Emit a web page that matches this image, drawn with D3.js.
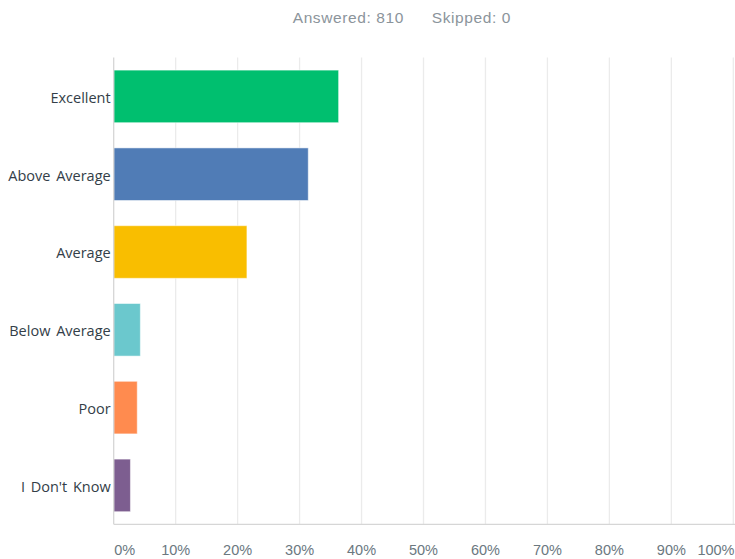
<!DOCTYPE html>
<html>
<head>
<meta charset="utf-8">
<script src="https://cdn.jsdelivr.net/npm/d3@7/dist/d3.min.js"></script>
<style>
  html, body { margin: 0; padding: 0; background: #fff; }
  svg { display: block; }
</style>
</head>
<body>
<svg id="chart" width="735" height="559"></svg>
<script>
const categories = ["Excellent", "Above Average", "Average", "Below Average", "Poor", "I Don't Know"];
const values = [36.3, 31.4, 21.5, 4.3, 3.8, 2.7];
const colors = ["#00BF6F", "#507CB6", "#F9BE00", "#6BC8CD", "#FF8B4F", "#7D5E90"];
const tickValues = [0, 10, 20, 30, 40, 50, 60, 70, 80, 90, 100];
const tickLabels = ["0%", "10%", "20%", "30%", "40%", "50%", "60%", "70%", "80%", "90%", "100%"];
const headerParts = ["Answered: 810", "Skipped: 0"];

(function () {
const svg = d3.select("#chart");
const plotLeft = 113.7, plotRight = 733.3, plotTop = 57.5, plotBottom = 524.3;

const x = d3.scaleLinear().domain([0, 100]).range([plotLeft, plotRight]);
const y = d3.scaleBand().domain(categories).range([plotTop, plotBottom])
  .paddingInner(0.324).paddingOuter(0.162);

// header
const header = svg.append("g").attr("font-family", "'Liberation Sans', Arial, sans-serif")
  .attr("font-size", 15.5).attr("letter-spacing", 0.6).attr("fill", "#8b949b");
header.append("text").attr("x", 292.7).attr("y", 22.7).text(headerParts[0]);
header.append("text").attr("x", 431.7).attr("y", 22.7).text(headerParts[1]);

// grid lines
svg.append("g").selectAll("line").data(tickValues.slice(1)).join("line")
  .attr("x1", d => x(d)).attr("x2", d => x(d))
  .attr("y1", plotTop).attr("y2", plotBottom)
  .attr("stroke", "#ebebeb").attr("stroke-width", 1.3);

// bars
svg.append("g").selectAll("rect").data(categories).join("rect")
  .attr("x", x(0))
  .attr("y", d => y(d))
  .attr("width", (d, i) => x(values[i]) - x(0))
  .attr("height", y.bandwidth())
  .attr("fill", (d, i) => colors[i])
  .attr("stroke", "rgba(255,255,255,0.5)")
  .attr("stroke-width", 1);

// axes lines
svg.append("line").attr("x1", plotLeft).attr("x2", plotLeft).attr("y1", plotTop).attr("y2", plotBottom)
  .attr("stroke", "#d6d6d6").attr("stroke-width", 1.3);
svg.append("line").attr("x1", plotLeft).attr("x2", 735).attr("y1", plotBottom).attr("y2", plotBottom)
  .attr("stroke", "#d6d6d6").attr("stroke-width", 1.3);

// category labels
svg.append("g").attr("font-family", "'Open Sans', sans-serif").attr("font-size", 14.5)
  .attr("fill", "#333e48").attr("text-anchor", "end").attr("word-spacing", 2)
  .selectAll("text").data(categories).join("text")
  .attr("x", plotLeft - 3)
  .attr("y", d => y(d) + y.bandwidth() / 2 + 6.3)
  .text(d => d);

// tick labels
svg.append("g").attr("font-family", "'Liberation Sans', Arial, sans-serif").attr("font-size", 14.5)
  .attr("fill", "#6b787f")
  .selectAll("text").data(tickValues).join("text")
  .attr("x", (d, i) => i === 0 ? x(d) + 0.5 : (i === tickValues.length - 1 ? 734.5 : x(d)))
  .attr("y", 555)
  .attr("text-anchor", (d, i) => i === 0 ? "start" : (i === tickValues.length - 1 ? "end" : "middle"))
  .text((d, i) => tickLabels[i]);
})();
</script>
</body>
</html>
